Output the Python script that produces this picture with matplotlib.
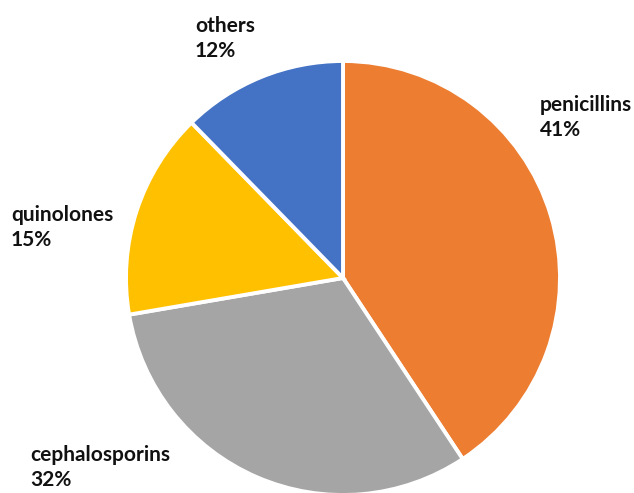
import matplotlib.pyplot as plt

categories = ["penicillins", "cephalosporins", "quinolones", "others"]
# wedge sizes as measured from the slice angles
shares = [40.7, 31.6, 15.4, 12.3]
# percentages as printed on the chart
pct_labels = ["41%", "32%", "15%", "12%"]
colors = ["#ED7D31", "#A5A5A5", "#FFC000", "#4472C4"]

# label anchor points in pixels (left, top), measured from top-left corner
label_pos = {
    "penicillins": (540, 95),
    "cephalosporins": (30, 445),
    "quinolones": (11, 205),
    "others": (195, 16),
}

W, H = 634, 493
fig = plt.figure(figsize=(W / 100, H / 100), dpi=100)
ax = fig.add_axes([0, 0, 1, 1])
ax.axis("off")

ax.pie(shares, colors=colors, startangle=90, counterclock=False,
       center=(343, H - 278), radius=217,
       wedgeprops=dict(edgecolor="white", linewidth=2.8))
ax.set_xlim(0, W)
ax.set_ylim(0, H)
ax.set_aspect("equal")

for cat, pct in zip(categories, pct_labels):
    x, y = label_pos[cat]
    ax.text(x, H - y, f"{cat}\n{pct}", ha="left", va="top",
            fontsize=15, fontweight="bold", family=["Lato", "DejaVu Sans"],
            color="#111111", linespacing=1.3)

fig.savefig("out.png", dpi=100)
